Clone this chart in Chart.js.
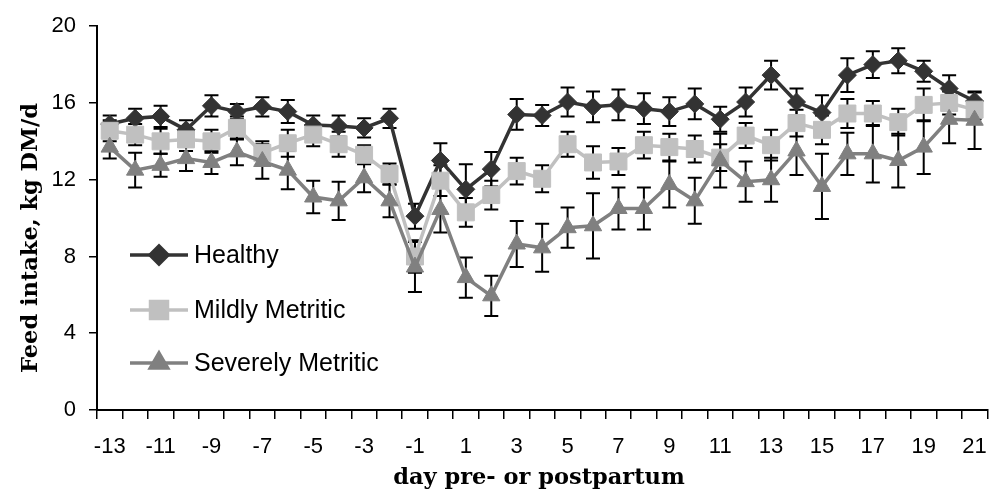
<!DOCTYPE html>
<html>
<head>
<meta charset="utf-8">
<script src="https://cdn.jsdelivr.net/npm/chart.js@4"></script>
<style>
  body { margin: 0; background: #fff; }
  canvas { display: block; }
</style>
</head>
<body>
<canvas id="intakeChart" width="1002" height="497"></canvas>
<script>
const days = [-13, -12, -11, -10, -9, -8, -7, -6, -5, -4, -3, -2, -1, 0,
  1, 2, 3, 4, 5, 6, 7, 8, 9, 10, 11, 12, 13, 14, 15, 16, 17, 18, 19, 20, 21];

const healthy = [14.9, 15.2, 15.3, 14.6, 15.85, 15.55, 15.8, 15.55, 14.85, 14.8, 14.7, 15.2, 10.1, 13.0,
  11.5, 12.55, 15.4, 15.35, 16.05, 15.8, 15.9, 15.7, 15.55, 15.95, 15.15, 16.05, 17.45, 16.05, 15.5, 17.45, 18.0, 18.2, 17.65, 16.75, 16.1];
const healthyErr = [0.45, 0.5, 0.55, 0.5, 0.55, 0.4, 0.5, 0.6, 0.5, 0.55, 0.5, 0.5, 0.65, 0.9,
  1.3, 0.9, 0.8, 0.55, 0.75, 0.8, 0.8, 0.8, 0.75, 0.8, 0.65, 0.75, 0.75, 0.7, 0.9, 0.88, 0.7, 0.65, 0.55, 0.7, 0.45];

const mild = [14.55, 14.35, 14.0, 14.1, 14.0, 14.7, 13.4, 13.9, 14.35, 13.85, 13.3, 12.3, 8.0, 11.95,
  10.3, 11.2, 12.45, 12.05, 13.85, 12.9, 12.95, 13.8, 13.7, 13.6, 13.15, 14.3, 13.8, 14.95, 14.6, 15.45, 15.45, 15.0, 15.9, 16.0, 15.65];
const mildErr = [0.55, 0.55, 0.65, 0.6, 0.6, 0.6, 0.6, 0.7, 0.6, 0.65, 0.5, 0.55, 0.85, 0.8,
  0.75, 0.75, 0.7, 0.7, 0.65, 0.85, 0.7, 0.7, 0.7, 0.7, 0.7, 0.65, 0.8, 0.7, 0.75, 0.75, 0.65, 0.7, 0.85, 0.6, 0.5];

const severe = [13.7, 12.5, 12.75, 13.1, 12.9, 13.45, 12.95, 12.5, 11.1, 10.9, 12.1, 10.9, 7.45, 10.45,
  6.9, 5.95, 8.65, 8.45, 9.5, 9.6, 10.5, 10.5, 11.75, 10.9, 13.0, 11.9, 12.0, 13.5, 11.65, 13.35, 13.35, 13.0, 13.7, 15.15, 15.1];
const severeErr = [0.6, 0.9, 0.6, 0.65, 0.6, 0.7, 0.9, 1.0, 0.85, 1.0, 0.75, 0.85, 1.3, 1.2,
  1.05, 1.05, 1.2, 1.25, 1.05, 1.7, 1.1, 1.1, 1.2, 1.2, 1.4, 1.05, 1.15, 1.25, 1.7, 1.1, 1.5, 1.4, 1.4, 1.25, 1.5];

const yTicks = [0, 4, 8, 12, 16, 20];
const errors = [healthyErr, mildErr, severeErr];

// error bars go under the lines and markers
const errorBars = {
  id: "errorBars",
  beforeDatasetsDraw(chart) {
    const ctx = chart.ctx;
    const y = chart.scales.y;
    ctx.save();
    ctx.strokeStyle = "#000";
    ctx.lineWidth = 2;
    chart.data.datasets.forEach((ds, i) => {
      const meta = chart.getDatasetMeta(i);
      meta.data.forEach((pt, j) => {
        const top = y.getPixelForValue(ds.data[j] + errors[i][j]);
        const bot = y.getPixelForValue(ds.data[j] - errors[i][j]);
        ctx.beginPath();
        ctx.moveTo(pt.x, top); ctx.lineTo(pt.x, bot);
        ctx.moveTo(pt.x - 7, top); ctx.lineTo(pt.x + 7, top);
        ctx.moveTo(pt.x - 7, bot); ctx.lineTo(pt.x + 7, bot);
        ctx.stroke();
      });
    });
    ctx.restore();
  }
};

// axis titles + legend inside the plot
const extras = {
  id: "extras",
  afterDraw(chart) {
    const ctx = chart.ctx;
    ctx.save();
    ctx.fillStyle = "#000";
    ctx.font = "bold 22.5px 'DejaVu Serif'";
    ctx.textAlign = "center";
    ctx.textBaseline = "middle";
    ctx.fillText("day pre- or postpartum", 539, 478);
    ctx.translate(31, 238);
    ctx.rotate(-Math.PI / 2);
    ctx.fillText("Feed intake, kg DM/d", 0, 0);
    ctx.restore();

    const rows = [255, 310, 363];
    ctx.save();
    chart.data.datasets.forEach((ds, i) => {
      const ly = rows[i];
      ctx.strokeStyle = ds.borderColor;
      ctx.lineWidth = 3.5;
      ctx.beginPath();
      ctx.moveTo(130, ly); ctx.lineTo(188, ly);
      ctx.stroke();
      ctx.fillStyle = ds.pointBackgroundColor;
      ctx.strokeStyle = ds.pointBorderColor;
      Chart.helpers.drawPoint(ctx, {
        pointStyle: ds.pointStyle, radius: ds.pointRadius, rotation: 0, borderWidth: 1
      }, 159, ly);
      ctx.fillStyle = "#000";
      ctx.font = "25px 'Liberation Sans'";
      ctx.textAlign = "left";
      ctx.textBaseline = "middle";
      ctx.fillText(ds.label, 194, ly + 1);
    });
    ctx.restore();
  }
};

function series(label, data, color, style, radius, order) {
  return {
    label, data, order,
    borderColor: color,
    borderWidth: 3.5,
    pointStyle: style,
    pointRadius: radius,
    pointBackgroundColor: color,
    pointBorderColor: color,
    pointBorderWidth: 1,
    tension: 0,
    fill: false
  };
}

new Chart(document.getElementById("intakeChart"), {
  type: "line",
  data: {
    labels: days,
    datasets: [
      series("Healthy", healthy, "#333333", "rectRot", 9, 3),
      series("Mildly Metritic", mild, "#c0c0c0", "rect", 12, 2),
      series("Severely Metritic", severe, "#808080", "triangle", 10, 1)
    ]
  },
  options: {
    responsive: false,
    animation: false,
    layout: { padding: { top: 18, right: 2, left: 0, bottom: 0 } },
    plugins: {
      legend: { display: false },
      tooltip: { enabled: false }
    },
    scales: {
      x: {
        offset: true,
        grid: { offset: true, drawOnChartArea: false, drawTicks: true, tickLength: 9, color: "#000", lineWidth: 1.5 },
        border: { display: true, color: "#000", width: 2 },
        ticks: {
          autoSkip: false, maxRotation: 0, minRotation: 0,
          padding: 15,
          color: "#000",
          font: { family: "'Liberation Sans'", size: 22 },
          callback: (v, i) => (i % 2 === 0 ? days[i] : "")
        },
        afterFit: (s) => { s.height = 87; }
      },
      y: {
        min: 0, max: 20,
        afterBuildTicks: (s) => { s.ticks = yTicks.map(v => ({ value: v })); },
        grid: { drawOnChartArea: false, drawTicks: true, tickLength: 8, color: "#000", lineWidth: 1.5 },
        border: { display: true, color: "#000", width: 2 },
        ticks: {
          padding: 13,
          color: "#000",
          font: { family: "'Liberation Sans'", size: 22 }
        },
        afterFit: (s) => { s.width = 97; }
      }
    }
  },
  plugins: [errorBars, extras]
});
</script>
</body>
</html>
